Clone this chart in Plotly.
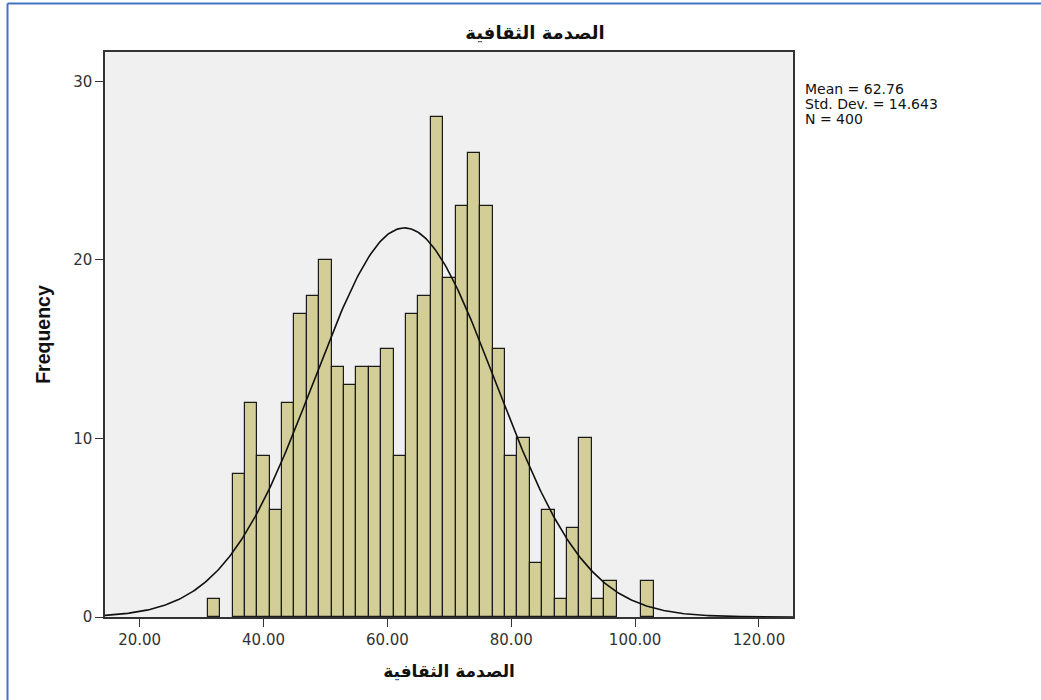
import numpy as np
import plotly.graph_objects as go

# Data
bin_centers = [32, 34, 36, 38, 40, 42, 44, 46, 48, 50, 52, 54, 56, 58, 60, 62, 64, 66, 68,
               70, 72, 74, 76, 78, 80, 82, 84, 86, 88, 90, 92, 94, 96, 98, 100, 102]
counts = [1, 0, 8, 12, 9, 6, 12, 17, 18, 20, 14, 13, 14, 14, 15, 9, 17, 18, 28,
          19, 23, 26, 23, 15, 9, 10, 3, 6, 1, 5, 10, 1, 2, 0, 0, 2]
bin_width = 2
mean_val = 62.76
std_val = 14.643
n_val = 400
x_ticks = [20, 40, 60, 80, 100, 120]
x_tick_labels = ["20.00", "40.00", "60.00", "80.00", "100.00", "120.00"]
y_ticks = [0, 10, 20, 30]
title_text = "الصدمة الثقافية"
stats_lines = [f"Mean = {mean_val}", f"Std. Dev. = {std_val}", f"N = {n_val}"]

x_range = [14.4, 125.5]
y_range = [0, 31.65]

bx = [c for c, n in zip(bin_centers, counts) if n > 0]
by = [n for n in counts if n > 0]

xs = np.linspace(x_range[0], x_range[1], 400)
ys = n_val * bin_width * np.exp(-0.5 * ((xs - mean_val) / std_val) ** 2) / (std_val * np.sqrt(2 * np.pi))

fig = go.Figure()
fig.add_trace(go.Bar(x=bx, y=by, width=bin_width,
                     marker=dict(color="#D3CE97", line=dict(color="#1a1a1a", width=1.2)),
                     hoverinfo="x+y"))
fig.add_trace(go.Scatter(x=xs, y=ys, mode="lines",
                         line=dict(color="#111111", width=1.6), hoverinfo="skip"))

tick_font = dict(family="DejaVu Sans", size=15, color="#333333")

fig.update_layout(
    width=1041, height=700,
    margin=dict(l=105, r=248, t=52, b=83),
    paper_bgcolor="white", plot_bgcolor="#F0F0F0",
    showlegend=False, bargap=0,
    title=dict(text="<b>" + title_text + "</b>", x=0.514, xanchor="center",
               y=0.953, yanchor="middle",
               font=dict(family="DejaVu Sans", size=18, color="#111111")),
    xaxis=dict(range=x_range, tickvals=x_ticks, ticktext=x_tick_labels,
               showgrid=False, zeroline=False, showline=True, mirror=True,
               linecolor="#333333", linewidth=1.5, ticks="outside", ticklen=8,
               tickcolor="#333333", tickfont=tick_font,
               title=dict(text="<b>" + title_text + "</b>", standoff=17,
                          font=dict(family="DejaVu Sans", size=17, color="#111111"))),
    yaxis=dict(range=y_range, tickvals=y_ticks,
               showgrid=False, zeroline=False, showline=True, mirror=True,
               linecolor="#333333", linewidth=1.5, ticks="outside", ticklen=8,
               tickcolor="#333333", tickfont=tick_font,
               title=dict(text="<b>Frequency</b>", standoff=17,
                          font=dict(family="Liberation Sans", size=19.5, color="#111111"))),
)

# statistics box text, one line per annotation
plot_top, plot_h = 52, 565
for i, line in enumerate(stats_lines):
    y_px = 89 + 15 * i
    fig.add_annotation(
        xref="paper", yref="paper", x=1.0145, y=1 - (y_px - plot_top) / plot_h,
        xanchor="left", yanchor="middle", align="left", showarrow=False,
        text=line, font=dict(family="DejaVu Sans", size=14, color="#111111"))

# blue frame (top and left edges)
fig.add_shape(type="line", xref="paper", yref="paper", x0=-0.1417, x1=1.5, y0=1.0858, y1=1.0858,
              line=dict(color="#4472C4", width=2))
fig.add_shape(type="line", xref="paper", yref="paper", x0=-0.1417, x1=-0.1417, y0=-0.3, y1=1.0858,
              line=dict(color="#4472C4", width=2))

fig.write_html("out.html", config={"displayModeBar": False},
               post_script="document.body.style.margin='0px';")
